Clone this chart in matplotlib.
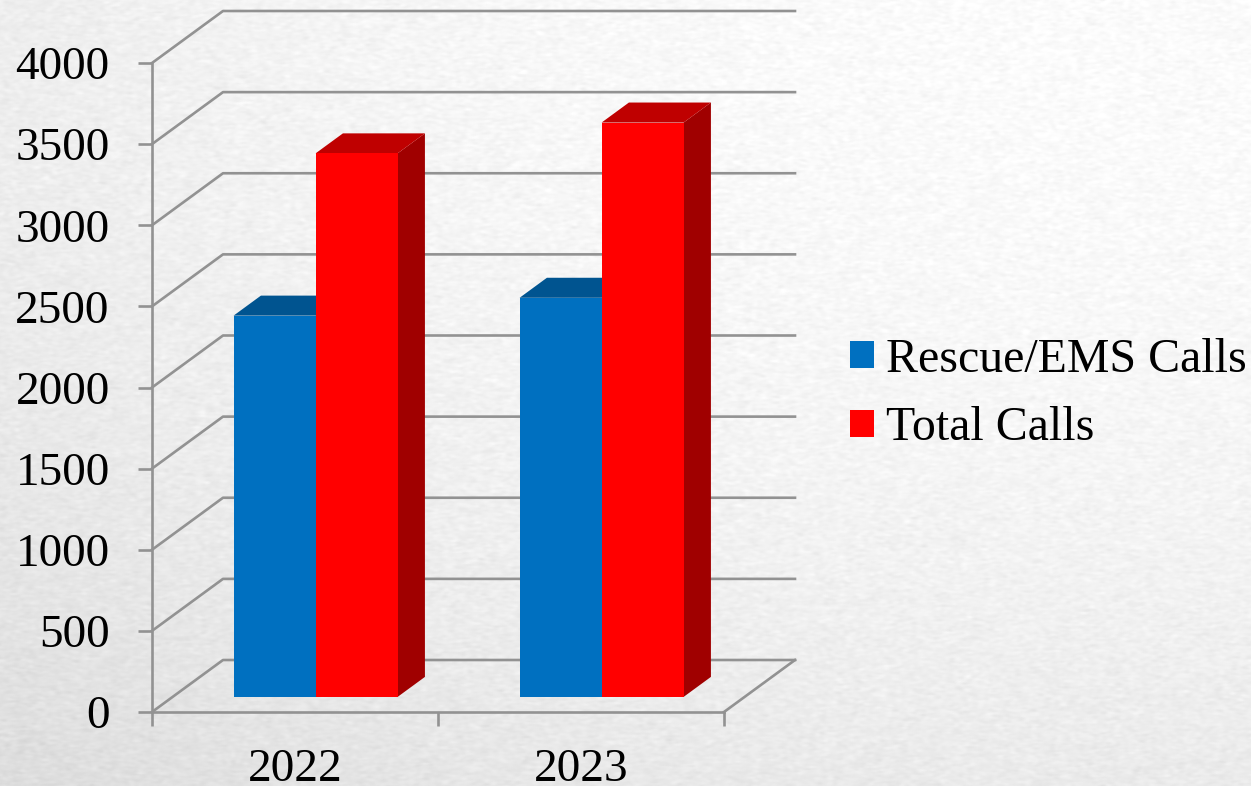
import numpy as np
import matplotlib
matplotlib.use('Agg')
import matplotlib.pyplot as plt
from matplotlib.patches import Polygon, Patch

categories = ['2022', '2023']
series_names = ['Rescue/EMS Calls', 'Total Calls']
rescue_calls = [2350, 2460]
total_calls = [3350, 3540]
y_ticks = [0, 500, 1000, 1500, 2000, 2500, 3000, 3500, 4000]

front_colors = ['#0070c0', '#ff0000']
top_colors = ['#005490', '#bf0000']
side_colors = ['#004a80', '#a00000']
grid_color = '#929292'

W, H = 1251, 786
plt.rcParams['font.family'] = ['Liberation Serif', 'DejaVu Serif']

fig = plt.figure(figsize=(W / 100, H / 100), dpi=100)

# paper background: near white at the upper right, greyer toward the lower left, mottled grain
bg = fig.add_axes([0, 0, 1, 1], zorder=0)
yy, xx = np.mgrid[0:H, 0:W]
r = np.hypot((xx - W * 0.9) / W, yy / H)
rng = np.random.default_rng(4)
grain = rng.normal(0, 1, (H, W))
for _ in range(3):
    grain = (grain + np.roll(grain, 1, 0) + np.roll(grain, 1, 1) + np.roll(grain, -1, 0) + np.roll(grain, -1, 1)
             + np.roll(grain, 2, 1) + np.roll(grain, -2, 1)) / 7
shade = 251 - 17 * r ** 2 + grain * 12
bg.imshow(shade, cmap='gray', vmin=0, vmax=255, aspect='auto')
bg.axis('off')

# axes area is the front plane of the box
left, right, bottom, top = 152, 724, 712, 63
ax = fig.add_axes([left / W, 1 - bottom / H, (right - left) / W, (bottom - top) / H], zorder=1)
ax.patch.set_alpha(0)
ax.set_xlim(0, 2)
ax.set_ylim(0, 4000)

# depth of the box in data units
depth_x = 71 / 286
depth_y = 52 / 0.16225


def project(x, y, d):
    return x + d * depth_x, y + d * depth_y


# walls and floor
for v in y_ticks:
    ax.plot([0, depth_x, 2 + depth_x], [v, v + depth_y, v + depth_y], color=grid_color, lw=1.9, clip_on=False, zorder=1)
ax.plot([2, 2 + depth_x], [0, depth_y], color=grid_color, lw=1.9, clip_on=False, zorder=1)

bar_w = 82 / 286
d0, d1 = 0.29, 0.675


def draw_bar(x0, value, k):
    x1 = x0 + bar_w
    side = [project(x1, 0, d0), project(x1, 0, d1), project(x1, value, d1), project(x1, value, d0)]
    cap = [project(x0, value, d0), project(x1, value, d0), project(x1, value, d1), project(x0, value, d1)]
    front = [project(x0, 0, d0), project(x1, 0, d0), project(x1, value, d0), project(x0, value, d0)]
    ax.add_patch(Polygon(side, closed=True, fc=side_colors[k], ec='none', clip_on=False, zorder=2 + k))
    ax.add_patch(Polygon(cap, closed=True, fc=top_colors[k], ec='none', clip_on=False, zorder=2 + k))
    ax.add_patch(Polygon(front, closed=True, fc=front_colors[k], ec='none', clip_on=False, zorder=2 + k))


for i in range(len(categories)):
    x_start = i + 0.5 - bar_w
    draw_bar(x_start, rescue_calls[i], 0)
    draw_bar(x_start + bar_w, total_calls[i], 1)

for s in ['top', 'right']:
    ax.spines[s].set_visible(False)
for s in ['left', 'bottom']:
    ax.spines[s].set_color(grid_color)
    ax.spines[s].set_linewidth(1.9)

ax.set_yticks(y_ticks)
ax.set_xticks([0, 1, 2])
ax.set_xticklabels([])
ax.set_xticks([0.5, 1.5], minor=True)
ax.set_xticklabels(categories, minor=True)
ax.tick_params(axis='y', length=10, width=1.9, color=grid_color, labelsize=34, pad=20.5, labelcolor='black')
ax.tick_params(axis='x', which='major', length=10, width=1.9, color=grid_color)
ax.tick_params(axis='x', which='minor', length=0, labelsize=34, pad=26, labelcolor='black')

handles = [Patch(fc=front_colors[0], ec='none'), Patch(fc=front_colors[1], ec='none')]
fig.legend(handles, series_names, loc='center left', bbox_to_anchor=(850 / W, 1 - 394 / H), frameon=False,
           fontsize=34.5, handlelength=0.5, handleheight=0.5, handletextpad=0.25, labelspacing=0.52, borderpad=0, borderaxespad=0)

fig.savefig('out.png', dpi=100)
